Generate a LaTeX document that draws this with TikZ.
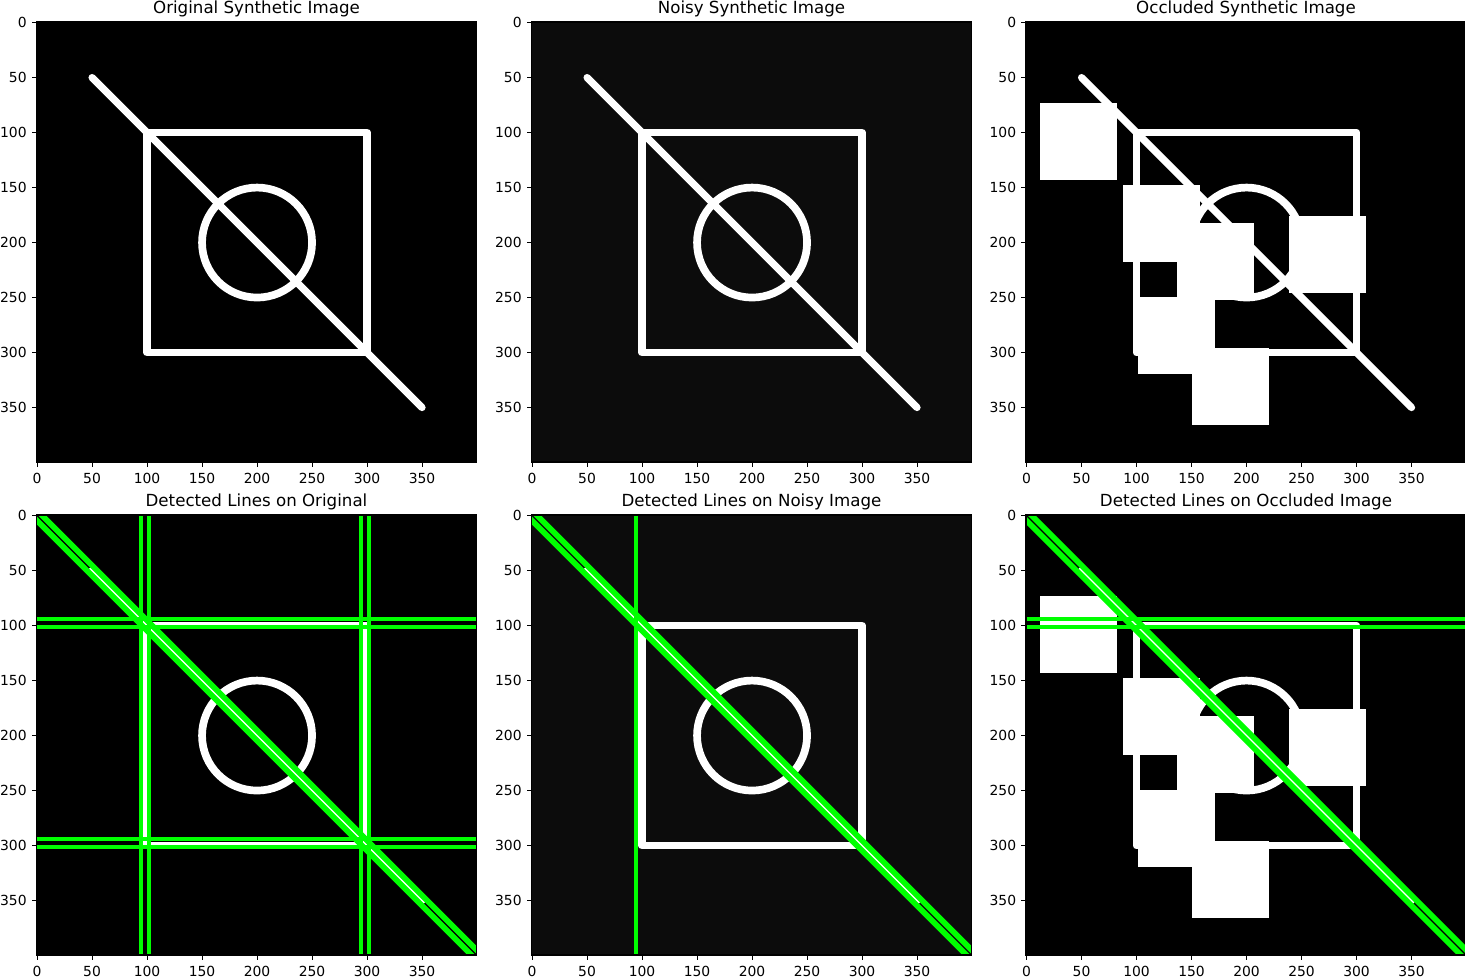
\documentclass[tikz,border=0pt]{standalone}
\usepackage{fontspec}
\setmainfont{DejaVu Sans}
\definecolor{hgreen}{RGB}{0,255,0}
\definecolor{noisebg}{RGB}{12,12,12}
\tikzset{
  shapeline/.style={white, line width=7.7pt, line join=round},
  diagline/.style={white, line width=7.15pt, line cap=round},
  greenline/.style={hgreen, line width=3.85pt},
  greendiag/.style={hgreen, line width=5.7pt},
  ticklabel/.style={inner sep=0pt, font=\fontsize{13.89}{16}\selectfont},
  titlelabel/.style={inner sep=0pt, anchor=base, font=\fontsize{16.67}{20}\selectfont},
  tickmark/.style={black, line width=1.1pt},
  spine/.style={black, line width=1.1pt},
}
\newcommand\baseshapes{%
  \draw[diagline] (50.5,50.5) -- (350.5,350.5);
  \draw[shapeline] (100.5,100.5) rectangle (300.5,300.5);
  \draw[shapeline] (200.5,200.5) circle[radius=50];
}
\newcommand\occluders{%
  \fill[white] (13,74) rectangle +(70,70);
  \fill[white] (88,148) rectangle +(70,70);
  \fill[white] (137,183) rectangle +(70,70);
  \fill[white] (239,176) rectangle +(70,70);
  \fill[white] (102,250) rectangle +(70,70);
  \fill[white] (151,296) rectangle +(70,70);
}
\newcommand\greendiagband{%
  \draw[greendiag] (-7.7,-12.3) -- (412.3,407.7);
  \draw[greendiag] (-12.3,-7.7) -- (407.7,412.3);
}
\newcommand\axesdeco[2]{%
  \draw[spine] (0,0) rectangle (400,400);
  \foreach \t in {0,50,...,350} {
    \draw[tickmark] (\t+0.5,400) -- (\t+0.5,404.42);
    \node[ticklabel, anchor=north] (#1x\t) at (\t+0.5,410) {\t};
    \draw[tickmark] (0,\t+0.5) -- (-4.42,\t+0.5);
    \node[ticklabel, anchor=east] (#1y\t) at (-8.8,\t+0.5) {\t};
  }
  \node[titlelabel] (#1title) at (200,-7.7) {#2};
}
\begin{document}
\begin{tikzpicture}[x=1pt, y=-1pt]
\useasboundingbox (0,0) rectangle (1465,978);
\fill[white] (0,0) rectangle (1465,978);

% ---------- Row 1, col 1: original
\begin{scope}[shift={(36.5,22)}, x=1.1pt, y=-1.1pt]
  \begin{scope}
    \clip (0,0) rectangle (400,400);
    \fill[black] (0,0) rectangle (400,400);
    \baseshapes
  \end{scope}
  \axesdeco{a}{Original Synthetic Image}
\end{scope}

% ---------- Row 1, col 2: noisy
\begin{scope}[shift={(531.5,22)}, x=1.1pt, y=-1.1pt]
  \begin{scope}
    \clip (0,0) rectangle (400,400);
    \fill[noisebg] (0,0) rectangle (400,400);
    \baseshapes
  \end{scope}
  \axesdeco{b}{Noisy Synthetic Image}
\end{scope}

% ---------- Row 1, col 3: occluded
\begin{scope}[shift={(1026,22)}, x=1.1pt, y=-1.1pt]
  \begin{scope}
    \clip (0,0) rectangle (400,400);
    \fill[black] (0,0) rectangle (400,400);
    \baseshapes
    \occluders
  \end{scope}
  \axesdeco{c}{Occluded Synthetic Image}
\end{scope}

% ---------- Row 2, col 1: detected on original
\begin{scope}[shift={(36.5,515)}, x=1.1pt, y=-1.1pt]
  \begin{scope}
    \clip (0,0) rectangle (400,400);
    \fill[black] (0,0) rectangle (400,400);
    \baseshapes
    \foreach \u in {95,102,295,302} {\draw[greenline] (\u,-5) -- (\u,405);}
    \foreach \v in {94.5,101.5,294.5,301.5} {\draw[greenline] (-5,\v) -- (405,\v);}
    \greendiagband
  \end{scope}
  \axesdeco{d}{Detected Lines on Original}
\end{scope}

% ---------- Row 2, col 2: detected on noisy
\begin{scope}[shift={(531.5,515)}, x=1.1pt, y=-1.1pt]
  \begin{scope}
    \clip (0,0) rectangle (400,400);
    \fill[noisebg] (0,0) rectangle (400,400);
    \baseshapes
    \draw[greenline] (95,-5) -- (95,405);
    \greendiagband
  \end{scope}
  \axesdeco{e}{Detected Lines on Noisy Image}
\end{scope}

% ---------- Row 2, col 3: detected on occluded
\begin{scope}[shift={(1026,515)}, x=1.1pt, y=-1.1pt]
  \begin{scope}
    \clip (0,0) rectangle (400,400);
    \fill[black] (0,0) rectangle (400,400);
    \baseshapes
    \occluders
    \foreach \v in {94.5,101.5} {\draw[greenline] (-5,\v) -- (405,\v);}
    \greendiagband
  \end{scope}
  \axesdeco{f}{Detected Lines on Occluded Image}
\end{scope}
\end{tikzpicture}
\end{document}
